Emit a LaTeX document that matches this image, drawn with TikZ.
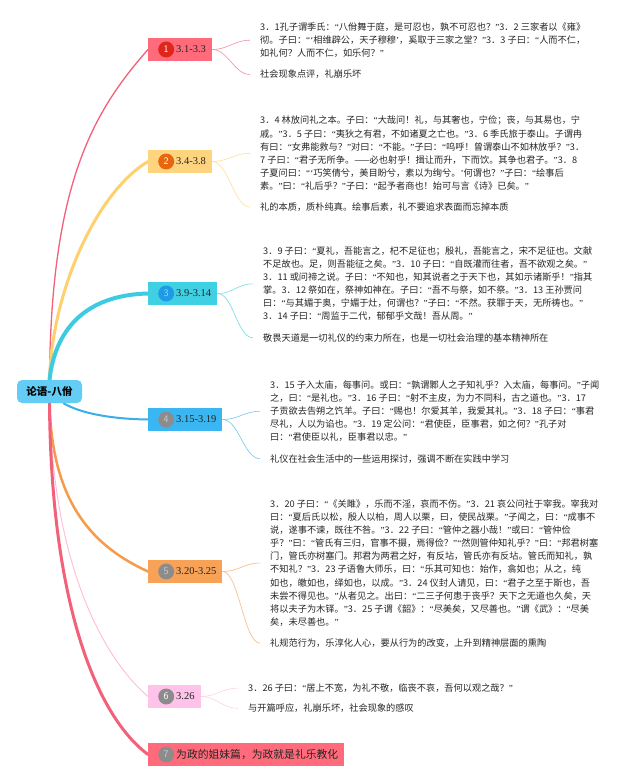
\documentclass[tikz,border=0pt]{standalone}
\usepackage{fontspec}
\setmainfont{Liberation Serif}
\newfontfamily\cjk{Noto Sans CJK SC}
\newfontfamily\qfont{Liberation Serif}
\usepackage{tikz}
\usetikzlibrary{positioning,backgrounds}

\definecolor{rootblue}{HTML}{64CDF6}
\definecolor{c1}{HTML}{FF6B7B}
\definecolor{c2}{HTML}{FFD47F}
\definecolor{c3}{HTML}{3FD0E4}
\definecolor{c4}{HTML}{3AB6F2}
\definecolor{c5}{HTML}{F7A257}
\definecolor{c6}{HTML}{FFC3E9}
\definecolor{c7}{HTML}{FF6B7B}
\definecolor{w1}{HTML}{F2607A}
\definecolor{w2}{HTML}{FFD06E}
\definecolor{w3}{HTML}{3CCBE0}
\definecolor{w4}{HTML}{3AAEE9}
\definecolor{w5}{HTML}{F59B4B}
\definecolor{w6}{HTML}{FFBCD9}
\definecolor{w7}{HTML}{F2607A}
\definecolor{d1}{HTML}{E0261B}
\definecolor{d2}{HTML}{E8670E}
\definecolor{d3}{HTML}{1F9AE6}
\definecolor{dgray}{HTML}{8C8C8C}

\begin{document}
% narrow quotation marks, as in the original
\catcode`“=\active \def“{{\qfont\char"201C}}
\catcode`”=\active \def”{{\qfont\char"201D}}
\catcode`‘=\active \def‘{{\qfont\char"2018}}
\catcode`’=\active \def’{{\qfont\char"2019}}
\begin{tikzpicture}[x=1pt,y=-1pt,
  root/.style={fill=rootblue,rounded corners=5pt,minimum width=65pt,minimum height=23pt,
               inner sep=0pt,font=\cjk\bfseries\fontsize{10.5}{12}\selectfont},
  branch/.style={anchor=west,minimum height=23pt,inner xsep=6pt,inner ysep=0pt,
                 font=\fontsize{10.5}{12}\selectfont,text=black!85},
  numdot/.style={circle,minimum size=16pt,inner sep=0pt,font=\sffamily\fontsize{10}{10}\selectfont},
  leaf/.style={anchor=north west,align=left,inner xsep=10pt,inner ysep=0pt,
               font=\cjk\fontsize{9.2}{13.1}\selectfont,text=black!85},
  twig/.style={line width=0.6pt},
  bough/.style={line cap=round}
]
\useasboundingbox (0,0) rectangle (640,783);

% root and main topics
\node[root] (root) at (49.5,391.5) {论语-八佾};
\node[branch,fill=c1] (b1) at (148,49.5) {\hspace*{22pt}3.1-3.3};
\node[branch,fill=c2] (b2) at (148,161.5) {\hspace*{22pt}3.4-3.8};
\node[branch,fill=c3] (b3) at (148,293.5) {\hspace*{22pt}3.9-3.14};
\node[branch,fill=c4] (b4) at (148,419.5) {\hspace*{22pt}3.15-3.19};
\node[branch,fill=c5] (b5) at (148,571.5) {\hspace*{22pt}3.20-3.25};
\node[branch,fill=c6] (b6) at (148,696.5) {\hspace*{22pt}3.26};
\node[branch,fill=c7,font=\cjk\fontsize{10.8}{12}\selectfont] (b7) at (148,754.5)
  {\hspace*{22pt}为政的姐妹篇，为政就是礼乐教化};

\foreach \i/\c/\t in {1/d1/white,2/d2/white,3/d3/c3!60!white,4/dgray/gray!40!white,
                      5/dgray/gray!40!white,6/dgray/white,7/dgray/gray!40!white}{
  \node[numdot,fill=\c,text=\t,right=10pt of b\i.west] (n\i) {\i};
}

% leaves
\node[leaf] (t1) at (250,22.5) {3．1孔子谓季氏：“八佾舞于庭，是可忍也，孰不可忍也？”3．2 三家者以《雍》\\
彻。子曰：“‘相维辟公，天子穆穆’，奚取于三家之堂？”3．3 子曰：“人而不仁，\\
如礼何？人而不仁，如乐何？”};
\node[leaf,below=12pt of t1.south west,anchor=north west] (s1) {社会现象点评，礼崩乐坏};

\node[leaf] (t2) at (250,116) {3．4 林放问礼之本。子曰：“大哉问！礼，与其奢也，宁俭；丧，与其易也，宁\\
戚。”3．5 子曰：“夷狄之有君，不如诸夏之亡也。”3．6 季氏旅于泰山。子谓冉\\
有曰：“女弗能救与？”对曰：“不能。”子曰：“呜呼！曾谓泰山不如林放乎？”3．\\
7 子曰：“君子无所争。——必也射乎！揖让而升，下而饮。其争也君子。”3．8\\
子夏问曰：“‘巧笑倩兮，美目盼兮，素以为绚兮。’何谓也？”子曰：“绘事后\\
素。”曰：“礼后乎？”子曰：“起予者商也！始可与言《诗》已矣。”};
\node[leaf,below=12pt of t2.south west,anchor=north west] (s2) {礼的本质，质朴纯真。绘事后素，礼不要追求表面而忘掉本质};

\node[leaf] (t3) at (253,246.5) {3．9 子曰：“夏礼，吾能言之，杞不足征也；殷礼，吾能言之，宋不足征也。文献\\
不足故也。足，则吾能征之矣。”3．10 子曰：“自既灌而往者，吾不欲观之矣。”\\
3．11 或问禘之说。子曰：“不知也，知其说者之于天下也，其如示诸斯乎！”指其\\
掌。3．12 祭如在，祭神如神在。子曰：“吾不与祭，如不祭。”3．13 王孙贾问\\
曰：“与其媚于奥，宁媚于灶，何谓也？”子曰：“不然。获罪于天，无所祷也。”\\
3．14 子曰：“周监于二代，郁郁乎文哉！吾从周。”};
\node[leaf,below=12pt of t3.south west,anchor=north west] (s3) {敬畏天道是一切礼仪的约束力所在，也是一切社会治理的基本精神所在};

\node[leaf] (t4) at (260,380.5) {3．15 子入太庙，每事问。或曰：“孰谓鄹人之子知礼乎？入太庙，每事问。”子闻\\
之，曰：“是礼也。”3．16 子曰：“射不主皮，为力不同科，古之道也。”3．17\\
子贡欲去告朔之饩羊。子曰：“赐也！尔爱其羊，我爱其礼。”3．18 子曰：“事君\\
尽礼，人以为谄也。”3．19 定公问：“君使臣，臣事君，如之何？”孔子对\\
曰：“君使臣以礼，臣事君以忠。”};
\node[leaf,below=12pt of t4.south west,anchor=north west] (s4) {礼仪在社会生活中的一些运用探讨，强调不断在实践中学习};

\node[leaf] (t5) at (260,499.5) {3．20 子曰：“《关雎》，乐而不淫，哀而不伤。”3．21 哀公问社于宰我。宰我对\\
曰：“夏后氏以松，殷人以柏，周人以栗，曰，使民战栗。”子闻之，曰：“成事不\\
说，遂事不谏，既往不咎。”3．22 子曰：“管仲之器小哉！”或曰：“管仲俭\\
乎？”曰：“管氏有三归，官事不摄，焉得俭？”“然则管仲知礼乎？”曰：“邦君树塞\\
门，管氏亦树塞门。邦君为两君之好，有反坫，管氏亦有反坫。管氏而知礼，孰\\
不知礼？”3．23 子语鲁大师乐，曰：“乐其可知也：始作，翕如也；从之，纯\\
如也，皦如也，绎如也，以成。”3．24 仪封人请见，曰：“君子之至于斯也，吾\\
未尝不得见也。”从者见之。出曰：“二三子何患于丧乎？天下之无道也久矣，天\\
将以夫子为木铎。”3．25 子谓《韶》：“尽美矣，又尽善也。”谓《武》：“尽美\\
矣，未尽善也。”};
\node[leaf,below=12pt of t5.south west,anchor=north west] (s5) {礼规范行为，乐淳化人心，要从行为的改变，上升到精神层面的熏陶};

\node[leaf] (t6) at (238,683.5) {3．26 子曰：“居上不宽，为礼不敬，临丧不哀，吾何以观之哉？”};
\node[leaf,below=11pt of t6.south west,anchor=north west] (s6) {与开篇呼应，礼崩乐坏，社会现象的感叹};

\foreach \i in {1,...,6}{
  \draw[twig,draw=w\i!70] (b\i.east) .. controls +(16,0) and +(-16,0) .. (t\i.west);
  \draw[twig,draw=w\i!70] (b\i.east) .. controls +(16,0) and +(-16,0) .. (s\i.west);
}

\begin{scope}[on background layer]
  \fill[white] (0,0) rectangle (640,783);
  \draw[bough,draw=w1,line width=1.3pt] (root.north) .. controls (51,180) and (95,110) .. (b1.west);
  \draw[bough,draw=w2,line width=3pt] (root.north) .. controls (52,290) and (97,192) .. (b2.west);
  \draw[bough,draw=w3,line width=4pt] (root.north) .. controls (55,330) and (85,295) .. (b3.west);
  \draw[bough,draw=w4,line width=2pt] (root.-40) .. controls (80,413) and (110,419) .. (b4.west);
  \draw[bough,draw=w5,line width=2.5pt] (root.south) .. controls (52,500) and (90,545) .. (b5.west);
  \draw[bough,draw=w6,line width=0.9pt] (root.south) .. controls (53,560) and (100,655) .. (b6.west);
  \draw[bough,draw=w7,line width=3pt] (root.south) .. controls (51,600) and (95,715) .. (b7.west);
\end{scope}
\end{tikzpicture}
\end{document}
